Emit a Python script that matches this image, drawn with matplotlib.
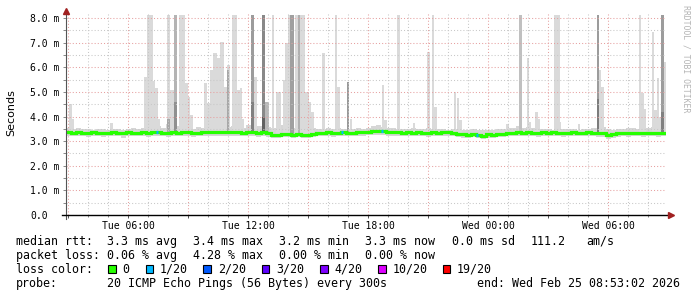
import numpy as np
import matplotlib
matplotlib.use("Agg")
import matplotlib.pyplot as plt
from matplotlib.patches import Rectangle

plt.rcParams['font.family'] = ['DejaVu Sans Mono']

# ---------------- data ----------------
# time axis in hours since Tue 00:00 ; 30 hours ending Wed Feb 25 08:53:02
t_start = 2.8839
t_end = 32.8839
step_h = 0.25  # 15-min resolution of the read-off series

median_rtt = [
    3.36, 3.35, 3.37, 3.35, 3.34, 3.36, 3.35, 3.33, 3.35, 3.36,
    3.35, 3.34, 3.36, 3.35, 3.35, 3.37, 3.34, 3.36, 3.38, 3.35,
    3.34, 3.36, 3.35, 3.37, 3.36, 3.34, 3.35, 3.37, 3.36, 3.38,
    3.37, 3.36, 3.38, 3.37, 3.36, 3.35, 3.36, 3.37, 3.35, 3.36,
    3.33, 3.27, 3.25, 3.29, 3.31, 3.26, 3.30, 3.27, 3.25, 3.31,
    3.34, 3.35, 3.36, 3.34, 3.35, 3.36, 3.34, 3.35, 3.36, 3.37,
    3.38, 3.40, 3.41, 3.40, 3.38, 3.37, 3.36, 3.35, 3.36, 3.35,
    3.36, 3.35, 3.34, 3.36, 3.35, 3.36, 3.37, 3.35, 3.31, 3.28,
    3.25, 3.29, 3.27, 3.23, 3.28, 3.24, 3.29, 3.31, 3.34, 3.35,
    3.36, 3.35, 3.36, 3.35, 3.34, 3.36, 3.35, 3.36, 3.35, 3.34,
    3.35, 3.36, 3.34, 3.35, 3.36, 3.35, 3.34, 3.33, 3.24, 3.29,
    3.32, 3.34, 3.33, 3.35, 3.34, 3.33, 3.35, 3.34, 3.33, 3.34,
]
smoke_hi = [
    3.55, 3.50, 3.52, 3.48, 3.50, 3.47, 3.49, 3.50, 3.46, 3.48,
    3.50, 3.47, 3.49, 3.52, 3.50, 3.55, 3.62, 3.58, 3.60, 3.55,
    3.70, 3.65, 3.60, 3.55, 3.52, 3.50, 3.58, 3.55, 3.60, 3.65,
    3.62, 3.55, 3.58, 3.60, 3.52, 3.55, 3.65, 3.70, 3.60, 3.62,
    3.58, 3.55, 3.60, 3.65, 3.58, 3.55, 3.52, 3.55, 3.50, 3.52,
    3.50, 3.48, 3.52, 3.50, 3.55, 3.50, 3.48, 3.50, 3.52, 3.50,
    3.55, 3.62, 3.65, 3.58, 3.55, 3.52, 3.50, 3.48, 3.50, 3.52,
    3.50, 3.48, 3.52, 3.50, 3.48, 3.50, 3.47, 3.50, 3.48, 3.46,
    3.45, 3.48, 3.46, 3.44, 3.47, 3.45, 3.48, 3.50, 3.52, 3.55,
    3.60, 3.55, 3.58, 3.52, 3.50, 3.48, 3.50, 3.47, 3.49, 3.48,
    3.50, 3.48, 3.47, 3.49, 3.50, 3.52, 3.55, 3.58, 3.50, 3.47,
    3.48, 3.50, 3.52, 3.55, 3.50, 3.52, 3.55, 3.58, 3.60, 3.62,
]
smoke_lo = [
    3.22, 3.20, 3.23, 3.21, 3.18, 3.22, 3.20, 3.15, 3.21, 3.22,
    3.20, 3.13, 3.22, 3.21, 3.20, 3.22, 3.19, 3.21, 3.23, 3.20,
    3.19, 3.22, 3.20, 3.22, 3.21, 3.18, 3.20, 3.22, 3.21, 3.23,
    3.22, 3.20, 3.23, 3.22, 3.21, 3.20, 3.21, 3.22, 3.19, 3.20,
    3.18, 3.14, 3.12, 3.15, 3.18, 3.13, 3.16, 3.14, 3.12, 3.17,
    3.20, 3.21, 3.22, 3.19, 3.21, 3.22, 3.20, 3.21, 3.22, 3.23,
    3.24, 3.25, 3.26, 3.25, 3.23, 3.22, 3.21, 3.20, 3.22, 3.21,
    3.22, 3.20, 3.19, 3.21, 3.20, 3.22, 3.23, 3.20, 3.17, 3.14,
    3.12, 3.15, 3.13, 3.10, 3.14, 3.11, 3.15, 3.17, 3.20, 3.21,
    3.22, 3.21, 3.22, 3.20, 3.19, 3.22, 3.21, 3.22, 3.20, 3.19,
    3.21, 3.22, 3.20, 3.21, 3.22, 3.20, 3.19, 3.18, 3.10, 3.14,
    3.18, 3.20, 3.19, 3.21, 3.20, 3.19, 3.21, 3.20, 3.19, 3.20,
]
# steps with packet loss (index into the series, lost pings of 20)
loss_index = [18, 55, 63, 82]
loss_count = [1, 1, 1, 1]

# smoke spikes: start hour, end hour, top (ms)
spike_base = 3.30
light_start = [3.05, 3.20, 5.10, 6.80, 6.93, 7.23, 7.35, 7.48, 7.93, 8.10,
               8.55, 8.85, 8.97, 9.10, 9.80, 9.93, 10.07, 10.25, 10.45, 10.60,
               10.77, 10.93, 11.18, 11.43, 11.57, 11.68, 12.30, 13.18, 13.40, 13.73,
               13.85, 13.97, 14.35, 14.85, 15.02, 15.15, 15.70, 16.35, 16.45, 17.10,
               18.68, 18.80, 19.43, 20.25, 20.93, 21.18, 21.30, 22.30, 22.43, 22.55,
               24.90, 25.93, 26.05, 26.35, 26.47, 27.30, 27.57, 28.50, 29.55, 29.63,
               31.53, 31.63, 31.80, 32.18, 32.30, 32.43, 32.55, 32.80]
light_end = [3.20, 3.30, 5.25, 6.93, 7.23, 7.35, 7.48, 7.60, 8.10, 8.27,
             8.85, 8.97, 9.10, 9.25, 9.93, 10.07, 10.25, 10.45, 10.60, 10.77,
             10.93, 11.10, 11.43, 11.57, 11.68, 11.80, 12.43, 13.30, 13.65, 13.85,
             13.97, 14.10, 14.85, 15.02, 15.15, 15.30, 15.85, 16.45, 16.60, 17.20,
             18.80, 18.95, 19.60, 20.35, 21.10, 21.30, 21.43, 22.38, 22.55, 22.68,
             25.05, 26.03, 26.15, 26.47, 26.60, 27.57, 27.65, 28.60, 29.63, 29.80,
             31.63, 31.80, 31.90, 32.30, 32.43, 32.55, 32.65, 32.8839]
light_top = [4.50, 3.90, 3.75, 5.62, 8.13, 5.45, 5.15, 3.90, 8.13, 5.10,
             8.13, 5.35, 4.81, 4.06, 5.35, 4.54, 5.90, 6.60, 6.37, 7.05,
             5.20, 6.10, 8.13, 5.08, 5.15, 3.90, 5.60, 8.13, 5.00, 5.50,
             7.00, 8.13, 8.13, 5.00, 4.60, 4.20, 6.60, 8.13, 5.20, 3.90,
             5.28, 3.86, 8.13, 3.75, 6.64, 8.13, 4.40, 5.00, 4.74, 3.86,
             3.70, 6.37, 3.80, 4.20, 3.90, 8.13, 3.80, 3.70, 5.90, 5.20,
             8.13, 4.95, 4.30, 7.45, 4.27, 5.55, 4.00, 6.20]

dark_start = [7.93, 8.27, 8.27, 10.95, 12.13, 12.13, 12.68, 12.68, 12.85, 14.10,
              14.47, 16.93, 25.52, 29.43, 29.43, 32.65, 32.65]
dark_end = [8.10, 8.43, 8.43, 11.03, 12.30, 12.30, 12.85, 12.85, 13.02, 14.27,
            14.57, 17.03, 25.70, 29.55, 29.55, 32.80, 32.80]
dark_top = [3.90, 8.13, 4.60, 5.90, 8.13, 4.60, 8.13, 4.00, 4.60, 8.13,
            8.13, 5.40, 8.13, 8.13, 4.70, 8.13, 4.20]
dark_shade = ['#a8a8a8', '#b4b4b4', '#909090', '#a8a8a8', '#9c9c9c', '#808080',
              '#888888', '#606060', '#b8b8b8', '#a0a0a0', '#b0b0b0', '#999999',
              '#c0c0c0', '#9c9c9c', '#7c7c7c', '#9c9c9c', '#808080']

y_ticks = [0, 1, 2, 3, 4, 5, 6, 7, 8]
y_labels = ['0.0', '1.0 m', '2.0 m', '3.0 m', '4.0 m', '5.0 m', '6.0 m', '7.0 m', '8.0 m']
x_major = [3, 6, 9, 12, 15, 18, 21, 24, 27, 30]
x_labels = ['', 'Tue 06:00', '', 'Tue 12:00', '', 'Tue 18:00', '', 'Wed 00:00', '', 'Wed 06:00']

loss_names = ['0', '1/20', '2/20', '3/20', '4/20', '10/20', '19/20']
loss_colors = ['#26ff00', '#00b8ff', '#0059ff', '#5e00ff', '#7e00ff', '#dd00ff', '#ff0000']

# ---------------- figure ----------------
W, H = 697, 297
fig = plt.figure(figsize=(W / 100, H / 100), dpi=100, facecolor='white')
ax = fig.add_axes([66 / W, (H - 215) / H, 600 / W, 202 / H])
ax.set_facecolor('white')
ax.set_xlim(t_start, t_end)
ax.set_ylim(0, 8.21)

n = len(median_rtt)
edges = t_start + step_h * np.arange(n + 1)
edges[-1] = min(edges[-1], t_end)
med = np.array(median_rtt)

# base smoke band
ax.fill_between(edges, np.append(smoke_lo, smoke_lo[-1]), np.append(smoke_hi, smoke_hi[-1]),
                step='post', color='#d6d6d6', lw=0, zorder=1)

# spikes
ls = np.array(light_start); le = np.array(light_end); lt = np.array(light_top)
ax.bar(ls, lt - spike_base, width=le - ls, bottom=spike_base, align='edge',
       color='#dadada', lw=0, zorder=1.2)
ds = np.array(dark_start); de = np.array(dark_end); dt = np.array(dark_top)
ax.bar(ds, dt - spike_base, width=de - ds, bottom=spike_base, align='edge',
       color=dark_shade, lw=0, zorder=1.4)

# median line coloured by loss
ax.stairs(med, edges, color=loss_colors[0], lw=2.3, zorder=3, baseline=None)
loss_levels = [0, 1, 2, 3, 4, 10, 19]
for idx, cnt in zip(loss_index, loss_count):
    ci = max(k for k, lv in enumerate(loss_levels) if cnt >= lv)
    ax.hlines(med[idx], edges[idx], edges[idx] + 0.12, color=loss_colors[ci], lw=2.3, zorder=3.5)

# grid
ax.set_yticks(y_ticks)
ax.set_yticklabels(y_labels)
ax.set_yticks(np.arange(0.5, 8.1, 1.0), minor=True)
ax.set_xticks(x_major)
ax.set_xticklabels(x_labels)
ax.set_xticks(np.arange(3, 33, 1), minor=True)
ax.set_axisbelow(False)
ax.grid(which='major', color='#e6a0a0', linestyle=(0, (1, 2)), lw=0.75)
ax.grid(which='minor', color='#c8c8c8', linestyle=(0, (1, 2)), lw=0.75)

for s in ax.spines.values():
    s.set_visible(False)

ax.tick_params(axis='y', which='major', length=2.2, width=0.7, color='#888888',
               pad=23.7, labelsize=7, labelcolor='#000000')
ax.tick_params(axis='y', which='minor', length=2.2, width=0.7, color='#888888')
plt.setp(ax.get_yticklabels(), ha='left')
ax.tick_params(axis='x', which='major', length=2.5, width=0.7, color='#555555',
               pad=1.6, labelsize=7)
ax.tick_params(axis='x', which='minor', length=1.5, width=0.7, color='#888888')

# axes with arrows
ax.plot([t_start, t_start], [-0.15, 8.25], color='#555555', lw=0.8, clip_on=False, zorder=5)
ax.plot([t_start - 0.2, 33.1], [0, 0], color='#000000', lw=1.0, clip_on=False, zorder=5)
ax.plot([t_start], [8.31], marker='^', color='#a02020', markersize=4.5, clip_on=False, zorder=6)
ax.plot([33.12], [0], marker='>', color='#a02020', markersize=4.5, clip_on=False, zorder=6)

# y label & watermark
fig.text(11 / W, 1 - 113 / H, 'Seconds', rotation=90, ha='center', va='center',
         fontsize=8, family='DejaVu Sans')
fig.text(686 / W, 1 - 59 / H, 'RRDTOOL / TOBI OETIKER', rotation=270, ha='center',
         va='center', fontsize=5.9, color='#b4b4b4')

# legend text
fs = 8.4


def put(x, y, s, ha='left'):
    fig.text(x / W, 1 - y / H, s, ha=ha, va='center', fontsize=fs)


r1, r2, r3, r4 = 241.3, 255.3, 269.3, 283.7
put(16, r1, 'median rtt:')
for x, s in zip([107.3, 193.3, 279.3, 365, 451.7, 530.7, 586.7],
                ['3.3 ms avg', '3.4 ms max', '3.2 ms min', '3.3 ms now', '0.0 ms sd', '111.2', 'am/s']):
    put(x, r1, s)
put(16, r2, 'packet loss:')
for x, s in zip([107.3, 193.3, 279.3, 365],
                ['0.06 % avg', '4.28 % max', '0.00 % min', '0.00 % now']):
    put(x, r2, s)
put(16, r3, 'loss color:')
box_x = [108.3, 145.7, 203.3, 261.7, 320, 378.3, 442.7]
for bx, name, col in zip(box_x, loss_names, loss_colors):
    fig.patches.append(Rectangle((bx / W, 1 - (r3 + 4) / H), 7.5 / W, 8 / H,
                                 transform=fig.transFigure, facecolor=col,
                                 edgecolor='black', lw=0.8))
    put(bx + 14.4, r3, name)
put(16, r4, 'probe:')
put(107.3, r4, '20 ICMP Echo Pings (56 Bytes) every 300s')
put(680, r4, 'end: Wed Feb 25 08:53:02 2026', ha='right')

fig.savefig('out.png', dpi=100, facecolor='white')
